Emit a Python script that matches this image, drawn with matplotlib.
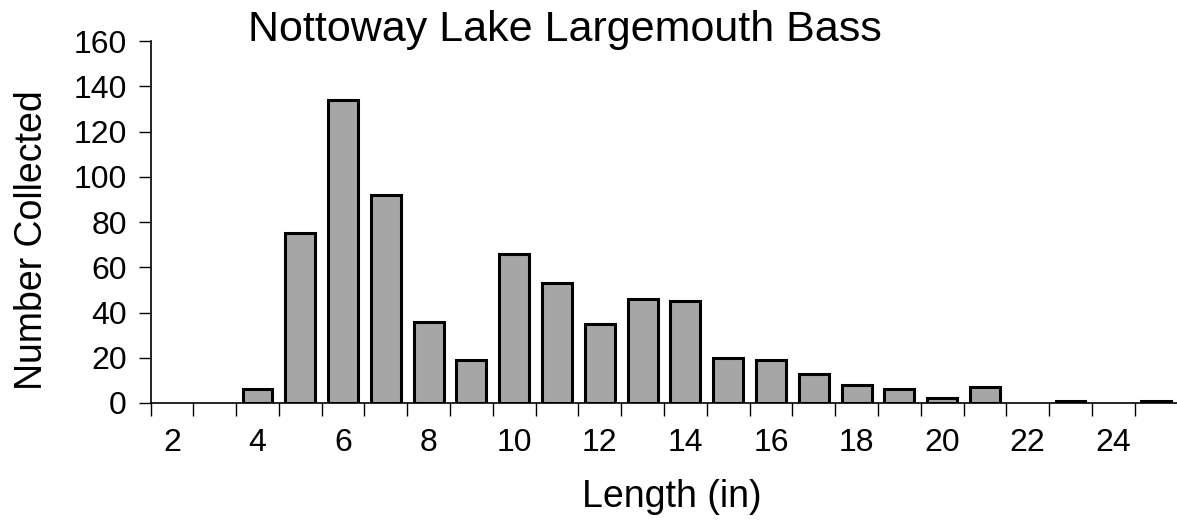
import matplotlib.pyplot as plt
from matplotlib.ticker import FixedLocator

plt.rcParams['font.family'] = ['Liberation Sans', 'DejaVu Sans']

# data
lengths = list(range(2, 26))
counts = [0, 0, 6, 75, 134, 92, 36, 19, 66, 53, 35, 46, 45,
          20, 19, 13, 8, 6, 2, 7, 0, 1, 0, 1]
y_ticks = [0, 20, 40, 60, 80, 100, 120, 140, 160]
x_labels = [2, 4, 6, 8, 10, 12, 14, 16, 18, 20, 22, 24]

W, H = 1177, 529
fig = plt.figure(figsize=(W / 100, H / 100), dpi=100)
ax = fig.add_axes([150.5 / W, (H - 403) / H, 1027 / W, 362 / H])

# empty categories get no outline, like in the original
edge_w = [2.2 if c > 0 else 0 for c in counts]
ax.bar(lengths, counts, width=0.7, color='#a6a6a6',
       edgecolor='black', linewidth=edge_w, zorder=3)

ax.set_xlim(lengths[0] - 0.5, lengths[-1] + 0.5)
ax.set_ylim(0, 160)

ax.set_yticks(y_ticks)
ax.tick_params(axis='y', direction='out', length=9, width=1,
               labelsize=23, pad=8)

# major ticks carry the labels, minor ticks mark category boundaries
ax.set_xticks(x_labels)
ax.xaxis.set_minor_locator(FixedLocator([v - 0.5 for v in lengths] + [lengths[-1] + 0.5]))
ax.tick_params(axis='x', which='major', length=0, labelsize=23, pad=18)
ax.tick_params(axis='x', which='minor', direction='out', length=9, width=1)

for s in ['top', 'right']:
    ax.spines[s].set_visible(False)
for s in ['left', 'bottom']:
    ax.spines[s].set_linewidth(1.2)

fig.text(565 / W, 1 - 41 / H, 'Nottoway Lake Largemouth Bass',
         ha='center', va='baseline', fontsize=31)
fig.text(672 / W, 1 - 507 / H, 'Length (in)',
         ha='center', va='baseline', fontsize=27)
fig.text(42 / W, 1 - 240 / H, 'Number Collected',
         ha='center', va='baseline', rotation=90, rotation_mode='anchor',
         fontsize=27)

fig.savefig('out.png', dpi=100)
